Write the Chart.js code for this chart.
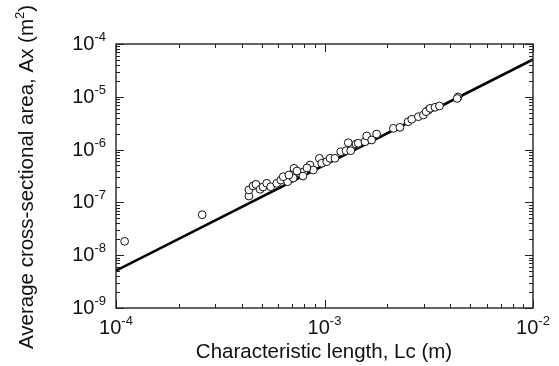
<!DOCTYPE html>
<html>
<head>
<meta charset="utf-8">
<script src="https://cdn.jsdelivr.net/npm/chart.js@4/dist/chart.umd.min.js"></script>
<style>
  html, body { margin: 0; padding: 0; background: #fff; }
  #grafico { display: block; }
</style>
</head>
<body>
<canvas id="grafico" width="559" height="366"></canvas>
<script>
/*************  dados  ****************/
// comprimento caracteristico Lc (m)
const lcValues = [
  1.10e-4, 2.59e-4, 4.34e-4, 4.34e-4, 4.54e-4, 4.69e-4, 4.91e-4, 5.07e-4,
  5.28e-4, 5.52e-4, 5.90e-4, 6.17e-4, 6.53e-4, 6.66e-4, 6.34e-4, 7.08e-4,
  7.14e-4, 7.08e-4, 7.63e-4, 7.97e-4, 7.38e-4, 8.52e-4, 8.84e-4, 9.45e-4,
  9.70e-4, 1.025e-3, 1.063e-3, 1.122e-3, 1.196e-3, 1.268e-3, 1.300e-3, 1.336e-3,
  1.416e-3, 1.452e-3, 1.564e-3, 1.593e-3, 1.683e-3, 1.778e-3, 2.14e-3, 2.30e-3,
  2.52e-3, 2.62e-3, 2.82e-3, 2.98e-3, 3.15e-3, 3.07e-3, 3.21e-3, 3.39e-3,
  3.56e-3, 4.37e-3, 4.33e-3, 6.75e-4, 7.88e-4, 8.24e-4
]
// area media da seccao transversal Ax (m2)
const axValues = [
  1.83e-8, 5.85e-8, 1.32e-7, 1.72e-7, 2.05e-7, 2.20e-7, 1.77e-7, 1.96e-7,
  2.30e-7, 1.98e-7, 2.30e-7, 2.65e-7, 2.99e-7, 2.47e-7, 3.07e-7, 3.56e-7,
  4.42e-7, 2.90e-7, 3.56e-7, 3.81e-7, 3.93e-7, 5.11e-7, 4.11e-7, 6.84e-7,
  5.51e-7, 5.90e-7, 6.84e-7, 6.84e-7, 9.12e-7, 9.53e-7, 1.35e-6, 9.53e-7,
  1.28e-6, 1.32e-6, 1.41e-6, 1.81e-6, 1.52e-6, 1.97e-6, 2.53e-6, 2.64e-6,
  3.37e-6, 3.75e-6, 4.20e-6, 4.52e-6, 5.62e-6, 5.22e-6, 6.05e-6, 6.32e-6,
  6.70e-6, 9.91e-6, 9.30e-6, 3.30e-7, 3.16e-7, 4.49e-7
]
// linha de ajuste
const fitLc = [1e-4, 1e-2]
const fitAx = [5.1e-9, 5.1e-5]

// expoentes dos rotulos dos eixos
const xTickExps = [-4, -3, -2]
const yTickExps = [-9, -8, -7, -6, -5, -4]

const xTitle = 'Characteristic length, Lc (m)'
const yTitle = ['Average cross-sectional area, Ax (m', '2', ')']

const FONT = '"Liberation Sans", Arial, Helvetica, sans-serif'
const INK = '#111'

//*************  funcoes auxiliares  ****************/
// desenha "10" com expoente em sobrescrito
function drawPow(ctx, exp, x, y, align){
    ctx.font = '20px ' + FONT
    const base = '10'
    const wb = ctx.measureText(base).width
    ctx.font = '13px ' + FONT
    const sup = String(exp)
    const we = ctx.measureText(sup).width
    let start = x
    if(align === 'center') start = x - (wb + we) / 2
    if(align === 'right') start = x - wb - we
    ctx.textAlign = 'left'
    ctx.textBaseline = 'alphabetic'
    ctx.font = '20px ' + FONT
    ctx.fillText(base, start, y)
    ctx.font = '13px ' + FONT
    ctx.fillText(sup, start + wb, y - 9)
}

// valores dos ticks menores/maiores num eixo log
function logTicks(exps){
    const out = []
    for(let i = 0; i < exps.length; i++){
        const e = exps[i]
        out.push({ v: Math.pow(10, e), major: true })
        if(i < exps.length - 1){
            for(let m = 2; m <= 9; m++) out.push({ v: m * Math.pow(10, e), major: false })
        }
    }
    return out
}

// moldura, ticks para dentro, rotulos e titulos
const eixosPlugin = {
    id: 'eixos',
    afterDatasetsDraw(chart){
        const ctx = chart.ctx
        const a = chart.chartArea
        const xs = chart.scales.x
        const ys = chart.scales.y
        ctx.save()
        ctx.strokeStyle = '#222'
        ctx.lineWidth = 1.4
        ctx.strokeRect(a.left, a.top, a.right - a.left, a.bottom - a.top)

        ctx.lineWidth = 1
        ctx.beginPath()
        logTicks(xTickExps).forEach(t => {
            const px = Math.round(xs.getPixelForValue(t.v)) + 0.5
            const len = t.major ? 8 : 4
            ctx.moveTo(px, a.bottom); ctx.lineTo(px, a.bottom - len)
            ctx.moveTo(px, a.top); ctx.lineTo(px, a.top + len)
        })
        logTicks(yTickExps).forEach(t => {
            const py = Math.round(ys.getPixelForValue(t.v)) + 0.5
            const len = t.major ? 8 : 4
            ctx.moveTo(a.left, py); ctx.lineTo(a.left + len, py)
            ctx.moveTo(a.right, py); ctx.lineTo(a.right - len, py)
        })
        ctx.stroke()

        ctx.fillStyle = INK
        xTickExps.forEach(e => {
            drawPow(ctx, e, xs.getPixelForValue(Math.pow(10, e)), a.bottom + 25.5, 'center')
        })
        yTickExps.forEach(e => {
            drawPow(ctx, e, a.left - 10, ys.getPixelForValue(Math.pow(10, e)) + 6, 'right')
        })

        ctx.font = '20.5px ' + FONT
        ctx.textAlign = 'center'
        ctx.textBaseline = 'alphabetic'
        ctx.fillText(xTitle, 324, 358)

        // titulo vertical com sobrescrito
        ctx.translate(33, 177)
        ctx.rotate(-Math.PI / 2)
        ctx.textAlign = 'left'
        ctx.font = '20.5px ' + FONT
        const w0 = ctx.measureText(yTitle[0]).width
        const w2 = ctx.measureText(yTitle[2]).width
        ctx.font = '13px ' + FONT
        const w1 = ctx.measureText(yTitle[1]).width
        let sx = -(w0 + w1 + w2) / 2
        ctx.font = '20.5px ' + FONT
        ctx.fillText(yTitle[0], sx, 0)
        ctx.font = '13px ' + FONT
        ctx.fillText(yTitle[1], sx + w0, -9)
        ctx.font = '20.5px ' + FONT
        ctx.fillText(yTitle[2], sx + w0 + w1, 0)
        ctx.restore()
    }
}

//*************  grafico  ****************/
const pontos = lcValues.map((v, i) => ({ x: v, y: axValues[i] }))
const ajuste = fitLc.map((v, i) => ({ x: v, y: fitAx[i] }))

new Chart(document.getElementById('grafico'), {
    type: 'scatter',
    data: {
        datasets: [
            {
                label: 'dados',
                data: pontos,
                order: 0,
                pointRadius: 3.9,
                pointBorderWidth: 1,
                pointBorderColor: '#111',
                pointBackgroundColor: '#fff'
            },
            {
                type: 'line',
                label: 'ajuste',
                data: ajuste,
                order: 1,
                showLine: true,
                borderColor: '#000',
                borderWidth: 2.6,
                pointRadius: 0,
                fill: false
            }
        ]
    },
    options: {
        responsive: false,
        animation: false,
        layout: { padding: { top: 44, right: 26, left: 0, bottom: 0 } },
        plugins: { legend: { display: false }, tooltip: { enabled: false } },
        scales: {
            x: {
                type: 'logarithmic',
                position: 'bottom',
                min: 1e-4,
                max: 1e-2,
                ticks: { display: false },
                grid: { display: false },
                border: { display: false },
                afterFit: s => { s.height = 58 }
            },
            y: {
                type: 'logarithmic',
                min: 1e-9,
                max: 1e-4,
                ticks: { display: false },
                grid: { display: false },
                border: { display: false },
                afterFit: s => { s.width = 116 }
            }
        }
    },
    plugins: [eixosPlugin]
})
</script>
</body>
</html>
